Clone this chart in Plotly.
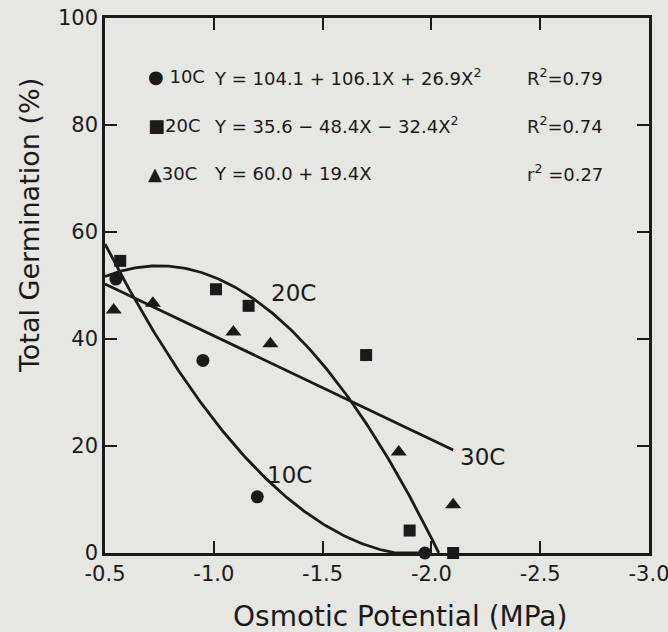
import numpy as np
import plotly.graph_objects as go

# ---- data ----
osm_10 = [-0.55, -0.95, -1.20, -1.97]
germ_10 = [51.2, 36.0, 10.5, 0.0]
osm_20 = [-0.57, -1.01, -1.16, -1.70, -1.90, -2.10]
germ_20 = [54.6, 49.3, 46.2, 37.0, 4.2, 0.0]
osm_30 = [-0.54, -0.72, -1.09, -1.26, -1.85, -2.10]
germ_30 = [45.4, 46.7, 41.3, 39.1, 18.9, 9.0]

# regression coefficients printed on the chart (c0, c1, c2)
coef_10 = [104.1, 106.1, 26.9]
coef_20 = [35.6, -48.4, -32.4]
coef_30 = [60.0, 19.4]
fit_end = {"10C": -1.97, "20C": -2.034, "30C": -2.10}

x_ticks = [-0.5, -1.0, -1.5, -2.0, -2.5, -3.0]
x_ticktext = ["-0.5", "-1.0", "-1.5", "-2.0", "-2.5", "-3.0"]
y_ticks = [0, 20, 40, 60, 80, 100]

eq_rows = [
    ("\u25CF 10C", "Y = 104.1 + 106.1X + 26.9X<sup>2</sup>", "R<sup>2</sup>=0.79", 89),
    ("\u25A020C", "Y = 35.6 \u2212 48.4X \u2212 32.4X<sup>2</sup>", "R<sup>2</sup>=0.74", 80),
    ("\u25B230C", "Y = 60.0 + 19.4X", "r<sup>2</sup> =0.27", 71),
]

INK = "#1a1a1a"
BG = "#e6e6e3"
FONT = "DejaVu Sans"

fig = go.Figure()

def poly(c, x):
    x = np.asarray(x)
    return sum(ci * x ** i for i, ci in enumerate(c))

for name, c in (("10C", coef_10), ("20C", coef_20), ("30C", coef_30)):
    xs = np.linspace(-0.5, fit_end[name], 200)
    ys = np.clip(poly(c, xs), 0, None)
    fig.add_trace(go.Scatter(x=xs, y=ys, mode="lines",
                             line=dict(color=INK, width=2.8),
                             showlegend=False, hoverinfo="skip"))

fig.add_trace(go.Scatter(x=osm_10, y=germ_10, mode="markers",
                         marker=dict(symbol="circle", size=13, color=INK),
                         showlegend=False, cliponaxis=False))
fig.add_trace(go.Scatter(x=osm_20, y=germ_20, mode="markers",
                         marker=dict(symbol="square", size=12, color=INK),
                         showlegend=False, cliponaxis=False))
fig.add_trace(go.Scatter(x=osm_30, y=germ_30, mode="markers",
                         marker=dict(symbol="triangle-up", size=14, color=INK),
                         showlegend=False, cliponaxis=False))

# equation block
for lab, eq, r2, yv in eq_rows:
    fig.add_annotation(x=-0.69, y=yv, text=lab, showarrow=False,
                       xanchor="left", yanchor="middle",
                       font=dict(size=18, color=INK, family=FONT))
    fig.add_annotation(x=-0.99, y=yv, text=eq, showarrow=False,
                       xanchor="left", yanchor="middle",
                       font=dict(size=18, color=INK, family=FONT))
    fig.add_annotation(x=-2.80, y=yv, text=r2, showarrow=False,
                       xanchor="right", yanchor="middle",
                       font=dict(size=18, color=INK, family=FONT))

# curve labels
for txt, xv, yv in (("20C", -1.365, 48.6), ("10C", -1.35, 14.6), ("30C", -2.235, 18.0)):
    fig.add_annotation(x=xv, y=yv, text=txt, showarrow=False,
                       xanchor="center", yanchor="middle",
                       font=dict(size=23, color=INK, family=FONT))

# axis titles (placed as in the reference)
fig.add_annotation(xref="paper", yref="paper", x=0.542, y=-0.1196,
                   xanchor="center", yanchor="middle",
                   text="Osmotic Potential (MPa)", showarrow=False,
                   font=dict(size=28, color=INK, family=FONT))
fig.add_annotation(xref="paper", yref="paper", x=-0.1397, y=0.611,
                   xanchor="center", yanchor="middle",
                   text="Total Germination (%)", showarrow=False, textangle=-90,
                   font=dict(size=27, color=INK, family=FONT))

axis_common = dict(showline=True, linewidth=2.6, linecolor=INK, mirror="ticks",
                   ticks="inside", ticklen=12, tickwidth=2, tickcolor=INK,
                   showgrid=False, zeroline=False, automargin=False,
                   tickfont=dict(size=21, color=INK, family=FONT))

fig.update_xaxes(range=[-0.5, -3.0], tickvals=x_ticks, ticktext=x_ticktext,
                 ticklabeloverflow="allow", **axis_common)
fig.update_yaxes(range=[0, 100], tickvals=y_ticks, ticklabeloverflow="allow",
                 **axis_common)

fig.update_layout(width=668, height=632,
                  margin=dict(l=105, r=19, t=18, b=79),
                  paper_bgcolor=BG, plot_bgcolor=BG,
                  showlegend=False)

fig.write_html("out.html",
               config={"displayModeBar": False},
               post_script="document.body.style.margin='0px';"
                           "document.body.style.background='" + BG + "';")
